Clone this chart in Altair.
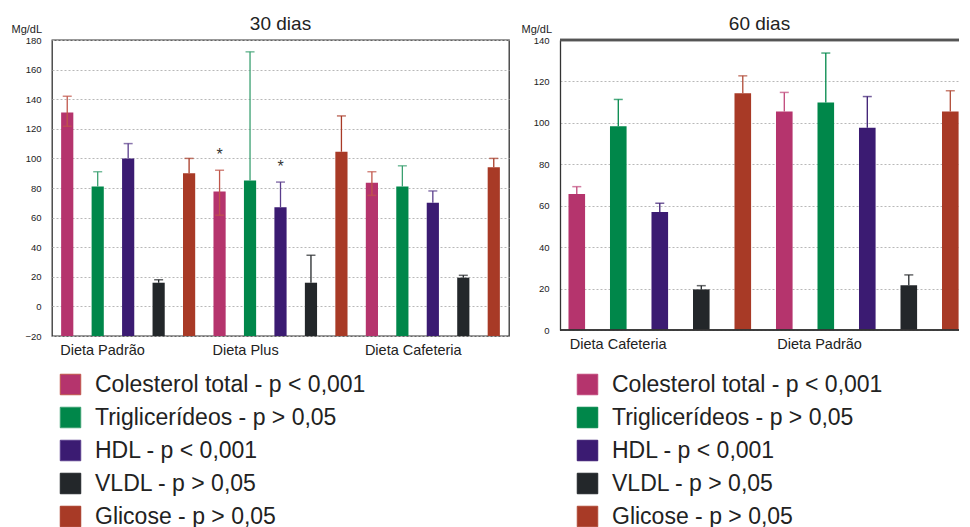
import altair as alt
import pandas as pd

FONT = "Liberation Sans"

series = ["Colesterol total - p < 0,001", "Triglicerídeos - p > 0,05",
          "HDL - p < 0,001", "VLDL - p > 0,05", "Glicose - p > 0,05"]
colors = ["#b5346d", "#00874a", "#3b1b72", "#23272a", "#a83a26"]

# ---- 30 dias ----
ser30 = series * 3
val30 = [131, 81, 100, 16, 90, 77.6, 85, 67, 16, 104.5, 83.5, 81, 70, 19.4, 94]
hi30 = [142, 91, 110, 18, 100, 92, 172, 84, 34.5, 128.7, 91, 95, 78, 21, 100]
lo30 = [121.7, 81, 100, 16, 90, 61.6, 85, 67, 16, 104.5, 75, 81, 70, 19.4, 94]
groups30 = ["Dieta Padrão", "Dieta Plus", "Dieta Cafeteria"]
gstart30 = [0, 5, 10]
star_idx30 = [5, 7]
star_val30 = [102, 94]
err_colors30 = ["#c0564a", "#3aa070", "#5a3d8c", "#23272a", "#a83a26"]

# ---- 60 dias ----
ser60 = series * 2
val60 = [65.7, 98.4, 57, 19.6, 114.3, 105.5, 109.8, 97.6, 21.6, 105.5]
hi60 = [69.2, 111.3, 61.2, 21.4, 122.7, 114.7, 133.7, 112.7, 26.6, 115.5]
lo60 = [65.7, 98.4, 57, 19.6, 114.3, 105.5, 109.8, 97.6, 21.6, 105.5]
groups60 = ["Dieta Cafeteria", "Dieta Padrão"]
gstart60 = [0, 5]
err_colors60 = ["#c0477a", "#00874a", "#3b1b72", "#23272a", "#b04a36"]


def panel(title, ser, val, hi, lo, groups, gstart, ydomain, width, height,
          err_colors, legx, legy, title_x, xscale, frame, stars=None):
    n = len(val)
    df = pd.DataFrame({"i": list(range(n)), "s": ser, "v": val, "hi": hi, "lo": lo})
    xenc = alt.X("i:O", axis=None, scale=xscale)
    yscale = alt.Scale(domain=ydomain, nice=False, zero=False)
    ticks = list(range(ydomain[0], ydomain[1] + 1, 20))
    base = alt.Chart(df)
    yaxis = alt.Axis(values=ticks, title="Mg/dL", titleAngle=0,
                     titleX=title_x, titleY=-6, titleAlign="left",
                     titleBaseline="bottom", titleFont=FONT,
                     titleFontSize=11, titleFontWeight="normal",
                     titleColor="#222", labelFont=FONT,
                     labelFontSize=9.5, labelColor="#222", labelOverlap=False,
                     labelPadding=11, ticks=False, domain=not frame,
                     domainColor="#333", domainWidth=1.3,
                     grid=True, gridColor="#b8b8b8",
                     gridDash=[2, 2], gridWidth=1)
    bars = base.mark_bar().encode(
        x=xenc,
        y=alt.Y("v:Q", scale=yscale, axis=yaxis),
        y2=alt.datum(ydomain[0]),
        color=alt.Color("s:N", scale=alt.Scale(domain=series, range=colors),
                        legend=alt.Legend(orient="none", legendX=legx,
                                          legendY=legy, title=None,
                                          symbolType="square",
                                          symbolSize=420,
                                          symbolStrokeColor="#333",
                                          symbolStrokeWidth=1,
                                          labelFont=FONT, labelFontSize=23,
                                          labelColor="#222", labelOffset=13,
                                          rowPadding=8, labelLimit=400)),
    )
    errscale = alt.Scale(domain=series, range=err_colors)
    rules = base.mark_rule(strokeWidth=1.3).encode(
        x=xenc, y=alt.Y("lo:Q", scale=yscale, axis=yaxis), y2="hi:Q",
        stroke=alt.Stroke("s:N", scale=errscale, legend=None),
    )
    capsh = base.mark_tick(size=9, thickness=1.5).encode(
        x=xenc, y=alt.Y("hi:Q", scale=yscale, axis=yaxis),
        fill=alt.Fill("s:N", scale=errscale, legend=None),
    )
    capsl = base.transform_filter("datum.lo < datum.v").mark_tick(
        size=9, thickness=1.5).encode(
        x=xenc, y=alt.Y("lo:Q", scale=yscale, axis=yaxis),
        fill=alt.Fill("s:N", scale=errscale, legend=None),
    )
    gdf = pd.DataFrame({"i": gstart, "g": groups})
    glabels = alt.Chart(gdf).mark_text(
        align="left", baseline="middle", font=FONT, fontSize=14.5,
        color="#222", dx=-7).encode(
        x=xenc, y=alt.value(height + 15), text="g:N")
    layers = [bars, rules, capsh, capsl, glabels]
    if stars:
        sdf = pd.DataFrame({"i": stars[0], "y": stars[1]})
        layers.append(alt.Chart(sdf).mark_text(
            text="*", font=FONT, fontSize=16, color="#333",
            baseline="middle").encode(
            x=xenc, y=alt.Y("y:Q", scale=yscale, axis=yaxis)))
    if not frame:
        top = alt.Chart(gdf).mark_rule(color="#555", strokeWidth=2.5).encode(
            y=alt.value(0), x=alt.value(0), x2=alt.value(width))
        bottom = alt.Chart(gdf).mark_rule(color="#333", strokeWidth=1.3).encode(
            y=alt.value(height), x=alt.value(0), x2=alt.value(width))
        layers += [top, bottom]
    props = dict(width=width, height=height,
                 title=alt.TitleParams(title, font=FONT, fontSize=19,
                                       fontWeight="normal", color="#222",
                                       offset=-11))
    if frame:
        props["view"] = alt.ViewBackground(stroke="#333", strokeWidth=1.3)
    else:
        props["view"] = alt.ViewBackground(stroke=None)
    return alt.layer(*layers).properties(**props)


left = panel("30 dias", ser30, val30, hi30, lo30, groups30, gstart30,
             [-20, 180], 457, 296, err_colors30, 7, 333, -41,
             alt.Scale(paddingInner=0.6, paddingOuter=0.3), True,
             stars=(star_idx30, star_val30))
right = panel("60 dias", ser60, val60, hi60, lo60, groups60, gstart60,
              [0, 140], 399, 290, err_colors60, 16, 333, -39,
              alt.Scale(paddingInner=0.6, paddingOuter=0.107, align=0.955),
              False)

chart = alt.hconcat(left, right, spacing=11).resolve_scale(
    color="independent", stroke="independent", fill="independent",
    y="independent", x="independent"
).properties(
    padding={"left": 2, "top": 6, "right": 0, "bottom": 0}
)

chart.save("out.html", embed_options={"renderer": "svg", "actions": False})
